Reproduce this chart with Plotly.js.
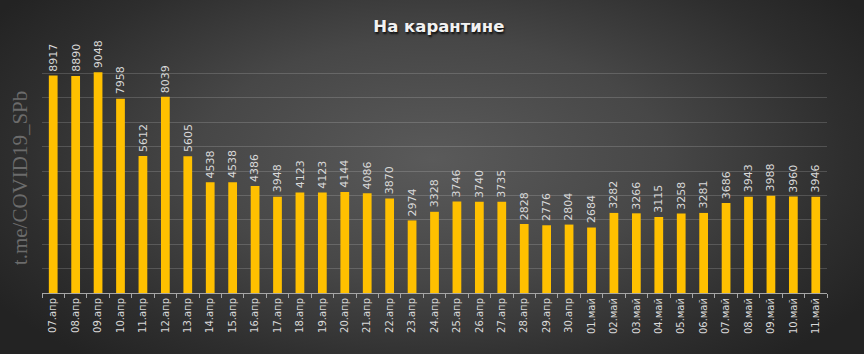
<!DOCTYPE html>
<html>
<head>
<meta charset="utf-8">
<script src="https://cdn.plot.ly/plotly-3.0.1.min.js"></script>
<style>
html,body{margin:0;padding:0;}
body{width:864px;height:354px;background:radial-gradient(ellipse 60% 75% at 50% 45%, #5a5a5a 0%, #474747 45%, #2e2e2e 80%, #232323 100%);}
</style>
</head>
<body>
<div id="chart"></div>
<script>
const dates = ["07.апр","08.апр","09.апр","10.апр","11.апр","12.апр","13.апр","14.апр","15.апр","16.апр","17.апр","18.апр","19.апр","20.апр","21.апр","22.апр","23.апр","24.апр","25.апр","26.апр","27.апр","28.апр","29.апр","30.апр","01.май","02.май","03.май","04.май","05.май","06.май","07.май","08.май","09.май","10.май","11.май"];
const quarantined = [8917,8890,9048,7958,5612,8039,5605,4538,4538,4386,3948,4123,4123,4144,4086,3870,2974,3328,3746,3740,3735,2828,2776,2804,2684,3282,3266,3115,3258,3281,3686,3943,3988,3960,3946];
const chartTitle = "На карантине";
const watermark = "t.me/COVID19_SPb";

const trace = {
  type: 'bar',
  x: dates,
  y: quarantined,
  marker: {color: '#FFC000'}
};

const valueLabels = dates.map((d, i) => ({
  text: '\u200b' + quarantined[i] + '\u200b',
  x: d, y: quarantined[i],
  xref: 'x', yref: 'y',
  xanchor: 'center', yanchor: 'bottom',
  yshift: 2,
  textangle: -90,
  showarrow: false,
  font: {family: 'DejaVu Sans', size: 11, color: '#d9d9d9'}
}));

const layout = {
  width: 864, height: 354,
  margin: {l: 42, r: 37, t: 49, b: 61},
  paper_bgcolor: 'rgba(0,0,0,0)',
  plot_bgcolor: 'rgba(0,0,0,0)',
  bargap: 0.61,
  showlegend: false,
  title: {
    text: '<b>' + chartTitle + '</b>',
    x: 0.508, xanchor: 'center',
    y: 0.925, yanchor: 'middle',
    font: {family: 'DejaVu Sans', size: 16.5, color: '#f2f2f2', shadow: '1px 2px 2px #111'}
  },
  xaxis: {
    type: 'category',
    tickangle: -90,
    ticks: 'outside',
    tickson: 'boundaries',
    ticklen: 4,
    tickcolor: '#a6a6a6',
    showline: true,
    linecolor: '#a6a6a6',
    linewidth: 1,
    showgrid: false,
    tickfont: {family: 'DejaVu Sans', size: 10, color: '#d9d9d9'}
  },
  yaxis: {
    range: [0, 10000],
    dtick: 1000,
    showticklabels: false,
    showgrid: true,
    gridcolor: 'rgba(255,255,255,0.16)',
    gridwidth: 1,
    zeroline: false
  },
  annotations: [{
    text: watermark,
    xref: 'paper', yref: 'paper',
    x: -0.027, y: 0.47,
    xanchor: 'center', yanchor: 'middle',
    textangle: -90,
    showarrow: false,
    font: {family: 'Liberation Serif', size: 21, color: '#6b6b6b'}
  }].concat(valueLabels)
};

Plotly.newPlot('chart', [trace], layout, {staticPlot: true});
</script>
</body>
</html>
